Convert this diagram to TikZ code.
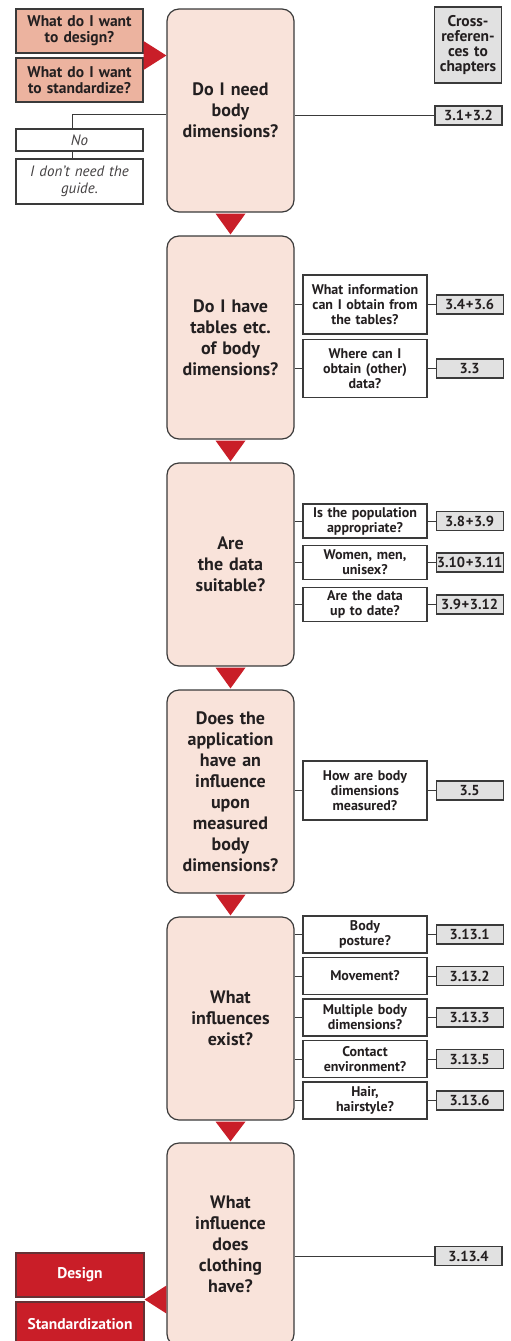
\documentclass[tikz,border=0pt]{standalone}
\usepackage{fontspec}
\setmainfont{PT Sans}
\usepackage{tikz}
\usetikzlibrary{positioning,calc}
\definecolor{ergpink}{HTML}{F9E3DA}
\definecolor{ergsalmon}{HTML}{ECB39F}
\definecolor{ergred}{HTML}{C91E28}
\definecolor{erggray}{HTML}{E1E1E1}
\definecolor{ergline}{HTML}{3A3A3A}
\definecolor{ergtext}{HTML}{231F20}
\tikzset{
  question/.style={draw=ergline,fill=ergpink,rounded corners=12pt,line width=1.2pt,minimum width=127pt,minimum height=203pt,text width=120pt,inner sep=3pt,align=center,text=ergtext,font=\bfseries\fontsize{18}{21}\selectfont},
  aspect/.style={draw=ergline,fill=white,line width=1.1pt,minimum width=124pt,text width=121pt,inner sep=1.5pt,align=center,text=ergtext,font=\bfseries\fontsize{14}{15}\selectfont},
  chapref/.style={draw=ergline,fill=erggray,line width=1.1pt,minimum width=67pt,minimum height=19pt,inner sep=0.5pt,text=ergtext,font=\bfseries\fontsize{14.5}{15}\selectfont},
  start/.style={draw=ergline,fill=ergsalmon,line width=1.1pt,minimum width=127pt,minimum height=44pt,text width=125pt,inner sep=1pt,align=center,text=ergtext,font=\bfseries\fontsize{15.5}{16}\selectfont},
  result/.style={start,minimum width=128pt,fill=ergred,draw=ergline!70!ergred,text=white},
  answer/.style={draw=ergline,fill=white,line width=1.1pt,minimum width=127pt,text width=125pt,inner sep=1pt,align=center,text=ergtext!85,font=\itshape\fontsize{15}{17}\selectfont},
  link/.style={draw=ergline,line width=1pt},
}
\newcommand{\plus}{\hspace{0.6pt}+\hspace{0.6pt}}
\begin{document}
\begin{tikzpicture}[x=1pt,y=-1pt]
  \useasboundingbox (0,0) rectangle (511,1341);
  % questions down the middle
  \node[question] (q1) at (230.5,110.5) {Do I need\\body\\dimensions?};
  \node[question] (q2) at (230.5,337.5) {Do I have\\tables etc.\\of body\\dimensions?};
  \node[question] (q3) at (230.5,564.5) {Are\\the data\\suitable?};
  \node[question] (q4) at (230.5,791.5) {Does the\\application\\have an\\influence\\upon\\measured\\body\\dimensions?};
  \node[question] (q5) at (230.5,1018.5) {What\\influences\\exist?};
  \node[question] (q6) at (230.5,1244.5) {What\\influence\\does\\clothing\\have?};
  \foreach \a/\b in {q1/q2,q2/q3,q3/q4,q4/q5,q5/q6}
    \fill[ergred] ($(\a.south)+(-15,1)$) -- ($(\a.south)+(15,1)$) -- ($(\b.north)+(0,-1)$) -- cycle;

  % way in
  \node[start] (design) at (79.5,31) {What do I want\\to design?};
  \node[start] (stdz) at (79.5,80) {What do I want\\to standardize?};
  \coordinate (inmid) at ($(design.east)!.5!(stdz.east)$);
  \fill[ergred] ($(inmid)+(0,-14.5)$) -- ($(inmid)+(0,14.5)$) -- (q1.west |- inmid) -- cycle;
  \node[answer,minimum height=22pt] (no) at (79.5,140) {No};
  \node[answer,minimum height=45pt] (guide) at (79.5,181.5) {I don’t need the\\guide.};
  \coordinate (nobend) at (72,114);
  \draw[link] (q1.west |- nobend) -- (nobend) -- (nobend |- no.north);
  \draw[link] (nobend |- no.south) -- (nobend |- guide.north);

  % chapters
  \node[chapref,minimum height=76pt,text width=66pt,align=center,font=\bfseries\fontsize{15.5}{15}\selectfont] (xref) at (468,45) {Cross-\\referen-\\ces to\\chapters};
  \node[chapref] (r1) at (468.5,115.5) {3.1\plus3.2};
  \draw[link] (q1.east |- r1) -- (r1.west);

  \node[aspect,minimum height=59pt] (a21) at (365,304.5) {What information\\can I obtain from\\the tables?};
  \node[chapref,right=8pt of a21] (r21) {3.4\plus3.6};
  \node[aspect,minimum height=58pt] (a22) at (365,368.5) {Where can I\\obtain (other)\\data?};
  \node[chapref,right=8pt of a22] (r22) {3.3};

  \node[aspect,minimum height=34pt] (a31) at (365,521) {Is the population\\appropriate?};
  \node[chapref,right=8pt of a31] (r31) {3.8\plus3.9};
  \node[aspect,minimum height=34pt] (a32) at (365,562.5) {Women, men,\\unisex?};
  \node[chapref,right=8pt of a32] (r32) {3.10\plus3.11};
  \node[aspect,minimum height=34pt] (a33) at (365,604.5) {Are the data\\up to date?};
  \node[chapref,right=8pt of a33] (r33) {3.9\plus3.12};

  \node[aspect,minimum height=59pt] (a41) at (365,790.5) {How are body\\dimensions\\measured?};
  \node[chapref,right=8pt of a41] (r41) {3.5};

  \node[aspect,minimum height=37pt] (a51) at (365,934.5) {Body\\posture?};
  \node[chapref,right=8pt of a51] (r51) {3.13.1};
  \node[aspect,minimum height=37pt] (a52) at (365,976) {Movement?};
  \node[chapref,right=8pt of a52] (r52) {3.13.2};
  \node[aspect,minimum height=37pt] (a53) at (365,1017.5) {Multiple body\\dimensions?};
  \node[chapref,right=8pt of a53] (r53) {3.13.3};
  \node[aspect,minimum height=37pt] (a54) at (365,1059) {Contact\\environment?};
  \node[chapref,right=8pt of a54] (r54) {3.13.5};
  \node[aspect,minimum height=37pt] (a55) at (365,1100.5) {Hair,\\hairstyle?};
  \node[chapref,right=8pt of a55] (r55) {3.13.6};

  \foreach \s/\r/\q in {a21/r21/q2,a22/r22/q2,a31/r31/q3,a32/r32/q3,a33/r33/q3,a41/r41/q4,a51/r51/q5,a52/r52/q5,a53/r53/q5,a54/r54/q5,a55/r55/q5}
    \draw[link] (\q.east |- \s) -- (\s.west) (\s.east) -- (\r.west);

  \node[chapref] (r6) at (468.5,1256) {3.13.4};
  \draw[link] (q6.east |- r6) -- (r6.west);

  % way out
  \node[result] (dsgn) at (80,1275) {Design};
  \node[result] (stnd) at (80,1324) {Standardization};
  \coordinate (outmid) at ($(dsgn.east)!.5!(stnd.east)$);
  \fill[ergred] (outmid) -- ($(q6.west |- outmid)+(0,-14)$) -- ($(q6.west |- outmid)+(0,14)$) -- cycle;
\end{tikzpicture}
\end{document}
